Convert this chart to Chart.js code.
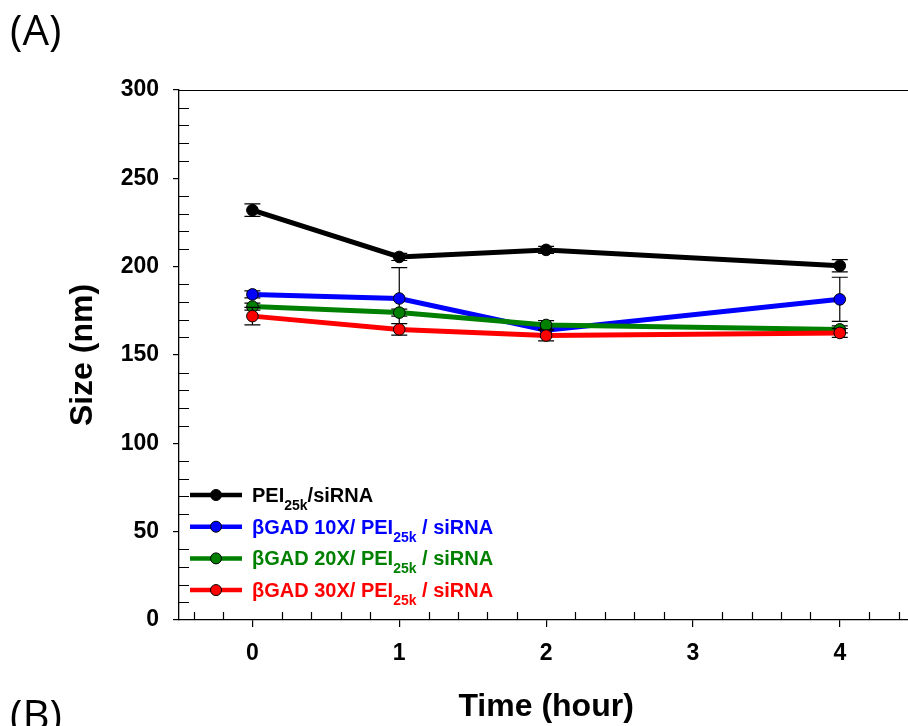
<!DOCTYPE html>
<html>
<head>
<meta charset="utf-8">
<script src="https://cdn.jsdelivr.net/npm/chart.js@4.4.1/dist/chart.umd.min.js"></script>
<style>
html, body { margin: 0; padding: 0; overflow: hidden; background: #fff; }
#wrap { position: relative; width: 908px; height: 726px; overflow: hidden; }
#sizeChart { position: absolute; left: 0; top: 0; }
.panel { position: absolute; left: 10px; font-family: "Open Sans", sans-serif; font-size: 42px; line-height: 1; color: #000; }
#panelA { top: 8px; }
#panelB { top: 693px; }
</style>
</head>
<body>
<div id="wrap">
  <canvas id="sizeChart" width="920" height="726"></canvas>
  <div class="panel" id="panelA">(A)</div>
  <div class="panel" id="panelB">(B)</div>
</div>
<script>
// time points (hour) and particle size (nm) with error bars
var hours = [0, 1, 2, 4];

var peiSize = [232, 205.5, 209.5, 200.5];
var peiErr = [3.5, 2, 2, 3.5];
var gad10Size = [184.3, 182, 164, 181.5];
var gad10Err = [2, 17.5, 2, 12.5];
var gad20Size = [177.4, 174, 167, 164.5];
var gad20Err = [2, 2, 2.5, 2];
var gad30Size = [172, 164.5, 161, 162.5];
var gad30Err = [5, 3.3, 3, 2.5];

var xTickValues = [0, 1, 2, 3, 4];
var colors = ['#000000', '#0000ff', '#008000', '#ff0000'];

// legend text, pieces flagged true are subscripts
var legendLabels = [
    [['PEI', false], ['25k', true], ['/siRNA', false]],
    [['\u03b2GAD 10X/ PEI', false], ['25k', true], [' / siRNA', false]],
    [['\u03b2GAD 20X/ PEI', false], ['25k', true], [' / siRNA', false]],
    [['\u03b2GAD 30X/ PEI', false], ['25k', true], [' / siRNA', false]]
];

var FONT = '"Liberation Sans", Arial, sans-serif';

function toPoints(values){
    var pts = [];
    for (var i = 0; i < hours.length; i++){
        pts.push({x: hours[i], y: values[i]});
    }
    return pts;
}

function makeDataset(values, errs, idx){
    return {
        data: toPoints(values),
        errors: errs,
        borderColor: colors[idx],
        backgroundColor: colors[idx],
        borderWidth: 5,
        pointRadius: 5.8,
        pointBorderColor: '#000',
        pointBorderWidth: 1,
        pointBackgroundColor: colors[idx],
        tension: 0,
        order: 3 - idx
    };
}

// small inward ticks between the labelled ones + frame line on top
var minorTicks = {
    id: 'minorTicks',
    beforeDatasetsDraw: function(chart){
        var ctx = chart.ctx, x = chart.scales.x, y = chart.scales.y, a = chart.chartArea;
        ctx.save();
        ctx.strokeStyle = '#000';
        ctx.lineWidth = 1.2;
        ctx.beginPath();
        for (var v = 10; v < 300; v += 10){
            if (v % 50 == 0) continue;
            var py = Math.round(y.getPixelForValue(v)) + 0.5;
            ctx.moveTo(a.left, py);
            ctx.lineTo(a.left + 10, py);
        }
        for (var k = -2; k <= 22; k++){
            if (k % 5 == 0) continue;
            var px = Math.round(x.getPixelForValue(k / 5)) + 0.5;
            ctx.moveTo(px, a.bottom);
            ctx.lineTo(px, a.bottom - 8);
        }
        ctx.moveTo(a.left, a.top + 0.5);
        ctx.lineTo(a.right, a.top + 0.5);
        ctx.stroke();
        ctx.restore();
    }
};

// error bars, drawn just under each series
var errorBars = {
    id: 'errorBars',
    beforeDatasetDraw: function(chart, args){
        var ds = chart.data.datasets[args.index];
        var ctx = chart.ctx, x = chart.scales.x, y = chart.scales.y;
        ctx.save();
        ctx.strokeStyle = '#000';
        ctx.lineWidth = 1.2;
        ctx.beginPath();
        for (var i = 0; i < ds.data.length; i++){
            var px = x.getPixelForValue(ds.data[i].x);
            var top = y.getPixelForValue(ds.data[i].y + ds.errors[i]);
            var bot = y.getPixelForValue(ds.data[i].y - ds.errors[i]);
            ctx.moveTo(px, top); ctx.lineTo(px, bot);
            ctx.moveTo(px - 8, top); ctx.lineTo(px + 8, top);
            ctx.moveTo(px - 8, bot); ctx.lineTo(px + 8, bot);
        }
        ctx.stroke();
        ctx.restore();
    }
};

// legend with subscripts, lower left inside the plot
var legendBox = {
    id: 'legendBox',
    afterDatasetsDraw: function(chart){
        var ctx = chart.ctx, a = chart.chartArea;
        var x0 = a.left + 11, top = 495, gap = 31.7;
        ctx.save();
        for (var i = 0; i < legendLabels.length; i++){
            var yy = top + gap * i;
            ctx.strokeStyle = colors[i];
            ctx.lineWidth = 4.5;
            ctx.beginPath();
            ctx.moveTo(x0, yy);
            ctx.lineTo(x0 + 52, yy);
            ctx.stroke();
            ctx.beginPath();
            ctx.arc(x0 + 26, yy, 5.5, 0, Math.PI * 2);
            ctx.fillStyle = colors[i];
            ctx.fill();
            ctx.lineWidth = 1;
            ctx.strokeStyle = '#000';
            ctx.stroke();

            var tx = x0 + 62;
            ctx.fillStyle = colors[i];
            ctx.textBaseline = 'alphabetic';
            var parts = legendLabels[i];
            for (var p = 0; p < parts.length; p++){
                if (parts[p][1]){
                    ctx.font = 'bold 14px ' + FONT;
                    ctx.fillText(parts[p][0], tx, yy + 15);
                } else {
                    ctx.font = 'bold 20px ' + FONT;
                    ctx.fillText(parts[p][0], tx, yy + 7);
                }
                tx += ctx.measureText(parts[p][0]).width;
            }
        }
        ctx.restore();
    }
};

var tickFont = {family: FONT, size: 23, weight: 'bold'};
var titleFont = {family: FONT, size: 32, weight: 'bold'};

new Chart(document.getElementById('sizeChart').getContext('2d'), {
    type: 'line',
    data: {
        datasets: [
            makeDataset(peiSize, peiErr, 0),
            makeDataset(gad10Size, gad10Err, 1),
            makeDataset(gad20Size, gad20Err, 2),
            makeDataset(gad30Size, gad30Err, 3)
        ]
    },
    options: {
        responsive: false,
        animation: false,
        layout: {padding: {left: 0, right: 3, top: 90, bottom: 0}},
        plugins: {legend: {display: false}, tooltip: {enabled: false}},
        scales: {
            x: {
                type: 'linear',
                min: -0.5,
                max: 4.5,
                afterBuildTicks: function(s){ s.ticks = xTickValues.map(function(v){ return {value: v}; }); },
                afterFit: function(s){ s.height = 106; },
                grid: {drawOnChartArea: false, drawTicks: true, tickLength: 7, tickColor: '#000', lineWidth: 1.2},
                border: {color: '#000', width: 1.3},
                ticks: {color: '#000', font: tickFont, padding: 13},
                title: {display: true, text: 'Time (hour)', color: '#000', font: titleFont, padding: {top: 0, bottom: 0}}
            },
            y: {
                min: 0,
                max: 300,
                afterFit: function(s){ s.width = 179; },
                grid: {drawOnChartArea: false, drawTicks: true, tickLength: 6, tickColor: '#000', lineWidth: 1.2},
                border: {color: '#000', width: 1.3},
                ticks: {stepSize: 50, color: '#000', font: tickFont, padding: 14},
                title: {display: true, text: 'Size (nm)', color: '#000', font: titleFont, padding: {top: 64, bottom: 0}}
            }
        }
    },
    plugins: [minorTicks, errorBars, legendBox]
});
</script>
</body>
</html>
